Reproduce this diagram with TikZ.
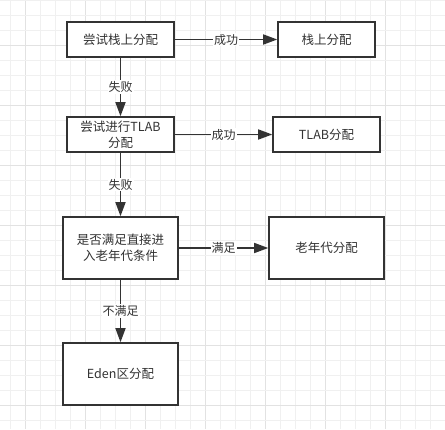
\documentclass[tikz,border=0pt]{standalone}
\usepackage{fontspec}
\setmainfont{Noto Sans CJK SC}
\usetikzlibrary{arrows.meta}
\definecolor{ink}{HTML}{333333}
\definecolor{gridlight}{HTML}{F0F0F0}
\definecolor{griddark}{HTML}{E2E2E2}
\tikzset{
  boxnode/.style={draw=ink, line width=1.6pt, fill=white, text=ink, align=center,
    font=\fontsize{12.5}{16}\selectfont, inner sep=0pt, minimum width=#1},
  flowarrow/.style={draw=ink, line width=1.5pt, -{Triangle[length=14pt,width=10pt]}},
  edgelabel/.style={fill=white, text=ink, font=\fontsize{12}{14}\selectfont, inner sep=1pt}
}
\begin{document}
\begin{tikzpicture}[x=1pt,y=-1pt]
\useasboundingbox (0,0) rectangle (445,429);
\fill[white] (0,0) rectangle (445,429);
% grid
\foreach \k in {0,...,28} {
  \pgfmathsetmacro{\xx}{10.6+15*\k}
  \pgfmathtruncatemacro{\m}{mod(\k+3,4)}
  \ifnum\m=0 \draw[griddark, line width=0.7pt] (\xx,0) -- (\xx,429);
  \else \draw[gridlight, line width=0.7pt] (\xx,0) -- (\xx,429); \fi
}
\foreach \k in {0,...,28} {
  \pgfmathsetmacro{\yy}{0.7+15*\k}
  \pgfmathtruncatemacro{\m}{mod(\k+1,4)}
  \ifnum\m=0 \draw[griddark, line width=0.7pt] (0,\yy) -- (445,\yy);
  \else \draw[gridlight, line width=0.7pt] (0,\yy) -- (445,\yy); \fi
}
% nodes
\node[boxnode=107pt, minimum height=35pt] (n1) at (120.5,39.5) {尝试栈上分配};
\node[boxnode=97pt, minimum height=35pt] (n2) at (326.5,39.5) {栈上分配};
\node[boxnode=107pt, minimum height=35pt] (n3) at (120.5,134.5) {尝试进行TLAB\\分配};
\node[boxnode=107pt, minimum height=35pt] (n4) at (326.5,134.5) {TLAB分配};
\node[boxnode=115pt, minimum height=62pt] (n5) at (120.5,248) {是否满足直接进\\入老年代条件};
\node[boxnode=115pt, minimum height=62pt] (n6) at (326.5,248) {老年代分配};
\node[boxnode=115pt, minimum height=62pt] (n7) at (120.5,374) {Eden区分配};
% connectors
\draw[flowarrow] (n1) -- node[edgelabel] {成功} (n2);
\draw[flowarrow] (n1) -- node[edgelabel] {失败} (n3);
\draw[flowarrow] (n3) -- node[edgelabel] {成功} (n4);
\draw[flowarrow] (n3) -- node[edgelabel] {失败} (n5);
\draw[flowarrow] (n5) -- node[edgelabel] {满足} (n6);
\draw[flowarrow] (n5) -- node[edgelabel] {不满足} (n7);
\end{tikzpicture}
\end{document}
